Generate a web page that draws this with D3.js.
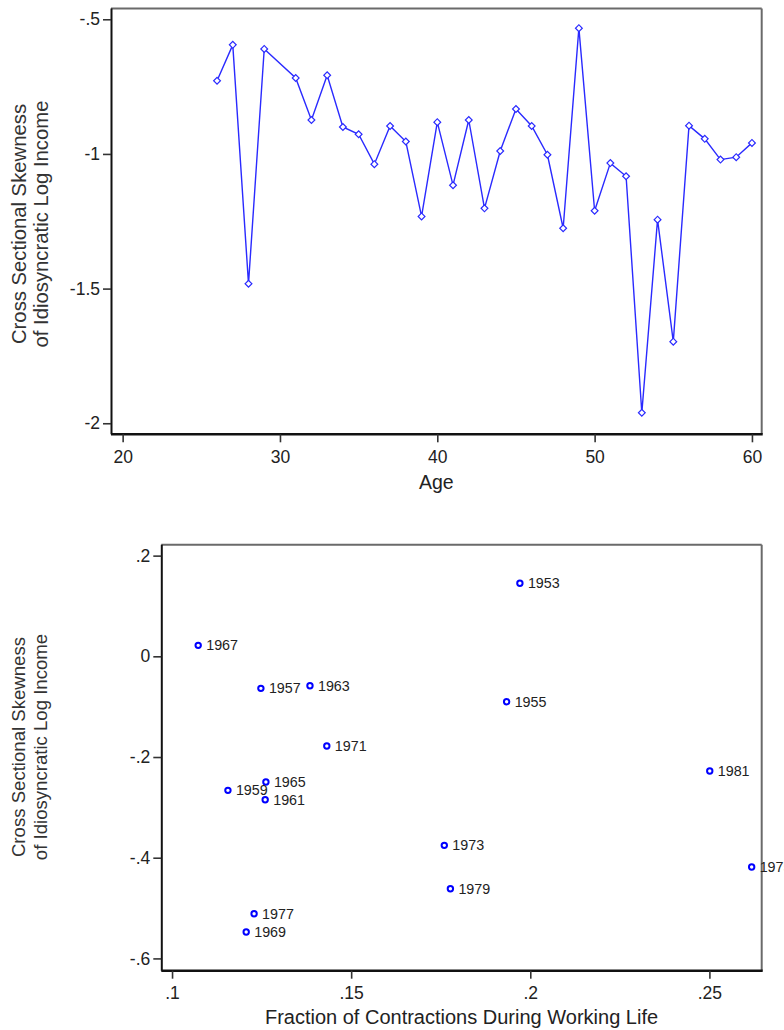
<!DOCTYPE html>
<html>
<head>
<meta charset="utf-8">
<script src="https://cdn.jsdelivr.net/npm/d3@7"></script>
<style>
  html, body { margin: 0; padding: 0; background: #fff; }
  svg { display: block; font-family: "Liberation Sans", Arial, sans-serif; }
</style>
</head>
<body>
<svg id="chart" width="784" height="1030"></svg>
<script>
// ---- Panel A: skewness by age ----
const ages = [26, 27, 28, 29, 31, 32, 33, 34, 35, 36, 37, 38, 39, 40, 41, 42, 43, 44,
              45, 46, 47, 48, 49, 50, 51, 52, 53, 54, 55, 56, 57, 58, 59, 60];
const skewByAge = [-0.728, -0.595, -1.482, -0.610, -0.718, -0.874, -0.708, -0.900, -0.927,
                   -1.038, -0.896, -0.954, -1.232, -0.882, -1.116, -0.874, -1.202, -0.989,
                   -0.833, -0.896, -1.003, -1.276, -0.533, -1.211, -1.034, -1.083, -1.961,
                   -1.244, -1.697, -0.895, -0.944, -1.021, -1.012, -0.959];
const ageTicks = [20, 30, 40, 50, 60];
const ageTickLabels = ["20", "30", "40", "50", "60"];
const skewTicksA = [-0.5, -1, -1.5, -2];
const skewTickLabelsA = ["-.5", "-1", "-1.5", "-2"];

// ---- Panel B: skewness by cohort vs. contraction exposure ----
const cohorts = ["1967", "1957", "1963", "1971", "1953", "1955", "1981", "1965", "1959",
                 "1961", "1977", "1969", "1973", "1979", "1975"];
const contractionShare = [0.1073, 0.1248, 0.1385, 0.1432, 0.1971, 0.1934, 0.2501, 0.1262,
                          0.1156, 0.1260, 0.1229, 0.1207, 0.1760, 0.1777, 0.2618];
const skewByCohort = [0.0218, -0.0636, -0.0583, -0.178, 0.145, -0.0901, -0.2278, -0.2497,
                      -0.2662, -0.2848, -0.5112, -0.5476, -0.3754, -0.4616, -0.4185];
const shareTicks = [0.1, 0.15, 0.2, 0.25];
const shareTickLabels = [".1", ".15", ".2", ".25"];
const skewTicksB = [0.2, 0, -0.2, -0.4, -0.6];
const skewTickLabelsB = [".2", "0", "-.2", "-.4", "-.6"];

const yTitle = ["Cross Sectional Skewness", "of Idiosyncratic Log Income"];

const svg = d3.select("#chart");
const BLUE = "#0000ff";

// draws the frame (black left/bottom axes, grey top/right border), ticks and titles
function drawFrame(g, x, y, opt) {
  const [x0, x1] = x.range();
  const [y0, y1] = y.range(); // y0 bottom, y1 top

  g.append("line").attr("x1", x0).attr("x2", x1).attr("y1", y1).attr("y2", y1)
    .attr("stroke", "#6a6a6a").attr("stroke-width", 2);
  g.append("line").attr("x1", x1).attr("x2", x1).attr("y1", y1).attr("y2", y0)
    .attr("stroke", "#6a6a6a").attr("stroke-width", 2);

  const yAxis = d3.axisLeft(y).tickValues(opt.yTicks)
    .tickFormat((d, i) => opt.yLabels[i]).tickSize(8).tickPadding(3);
  const ya = g.append("g").attr("transform", `translate(${x0},0)`).call(yAxis);
  ya.select(".domain").attr("stroke", "#111").attr("stroke-width", 2)
    .attr("d", `M0.5,${y0}V${y1}`);
  ya.selectAll(".tick line").attr("stroke", "#333").attr("stroke-width", 1.6);
  ya.selectAll(".tick text").attr("font-size", opt.tickFont).attr("fill", "#222")
    .attr("font-family", "Liberation Sans, Arial, sans-serif");

  const xAxis = d3.axisBottom(x).tickValues(opt.xTicks)
    .tickFormat((d, i) => opt.xLabels[i]).tickSize(8).tickPadding(8);
  const xa = g.append("g").attr("transform", `translate(0,${y0})`).call(xAxis);
  xa.select(".domain").attr("stroke", "#111").attr("stroke-width", 2.4)
    .attr("d", `M${x0},0H${x1 + 1}`);
  xa.selectAll(".tick line").attr("stroke", "#333").attr("stroke-width", 1.6);
  xa.selectAll(".tick text").attr("font-size", opt.tickFont).attr("fill", "#222")
    .attr("font-family", "Liberation Sans, Arial, sans-serif");

  g.append("text").attr("x", (x0 + x1) / 2).attr("y", opt.xTitleY)
    .attr("text-anchor", "middle").attr("font-size", opt.xTitleFont).attr("fill", "#222")
    .text(opt.xTitle);

  const t = g.append("text").attr("text-anchor", "middle")
    .attr("transform", `translate(${opt.yTitleX},${opt.yTitleCY}) rotate(-90)`)
    .attr("font-size", opt.yTitleFont).attr("fill", "#333");
  t.append("tspan").attr("x", 0).attr("dy", 0).text(yTitle[0]);
  t.append("tspan").attr("x", 0).attr("dy", 22).text(yTitle[1]);
}

// ---- Panel A ----
const xA = d3.scaleLinear().domain([19.26, 60.62]).range([111, 761.7]);
const yA = d3.scaleLinear().domain([-2.041, -0.46]).range([434.3, 8.5]);
const gA = svg.append("g");
drawFrame(gA, xA, yA, {
  xTicks: ageTicks, xLabels: ageTickLabels, yTicks: skewTicksA, yLabels: skewTickLabelsA,
  tickFont: 17.5, xTitleFont: 19.5, yTitleFont: 20.3, xTitle: "Age", xTitleY: 488.5,
  yTitleX: 26, yTitleCY: 224
});

const ptsA = ages.map((a, i) => [a, skewByAge[i]]);
gA.append("path").datum(ptsA)
  .attr("fill", "none").attr("stroke", "#2a2aff").attr("stroke-width", 1.4)
  .attr("d", d3.line().x(d => xA(d[0])).y(d => yA(d[1])));
gA.selectAll(".mk").data(ptsA).join("rect").attr("class", "mk")
  .attr("x", -2.4).attr("y", -2.4).attr("width", 4.8).attr("height", 4.8)
  .attr("transform", d => `translate(${xA(d[0])},${yA(d[1])}) rotate(45)`)
  .attr("fill", "#fff").attr("stroke", "#2a2aff").attr("stroke-width", 1.2);

// ---- Panel B ----
const xB = d3.scaleLinear().domain([0.097, 0.2646]).range([161.3, 761.7]);
const yB = d3.scaleLinear().domain([-0.6244, 0.2217]).range([970.7, 544.7]);
const gB = svg.append("g");
drawFrame(gB, xB, yB, {
  xTicks: shareTicks, xLabels: shareTickLabels, yTicks: skewTicksB, yLabels: skewTickLabelsB,
  tickFont: 17.5, xTitleFont: 20, yTitleFont: 18.6,
  xTitle: "Fraction of Contractions During Working Life",
  xTitleY: 1024, yTitleX: 25, yTitleCY: 747
});

const ptsB = cohorts.map((c, i) => ({ c, x: contractionShare[i], y: skewByCohort[i] }));
gB.selectAll(".pt").data(ptsB).join("circle").attr("class", "pt")
  .attr("cx", d => xB(d.x)).attr("cy", d => yB(d.y)).attr("r", 2.7)
  .attr("fill", "#fff").attr("stroke", BLUE).attr("stroke-width", 2);
gB.selectAll(".lbl").data(ptsB).join("text").attr("class", "lbl")
  .attr("x", d => xB(d.x) + 8).attr("y", d => yB(d.y)).attr("dy", "0.36em")
  .attr("font-size", 14.3).attr("fill", "#222").text(d => d.c);
</script>
</body>
</html>
